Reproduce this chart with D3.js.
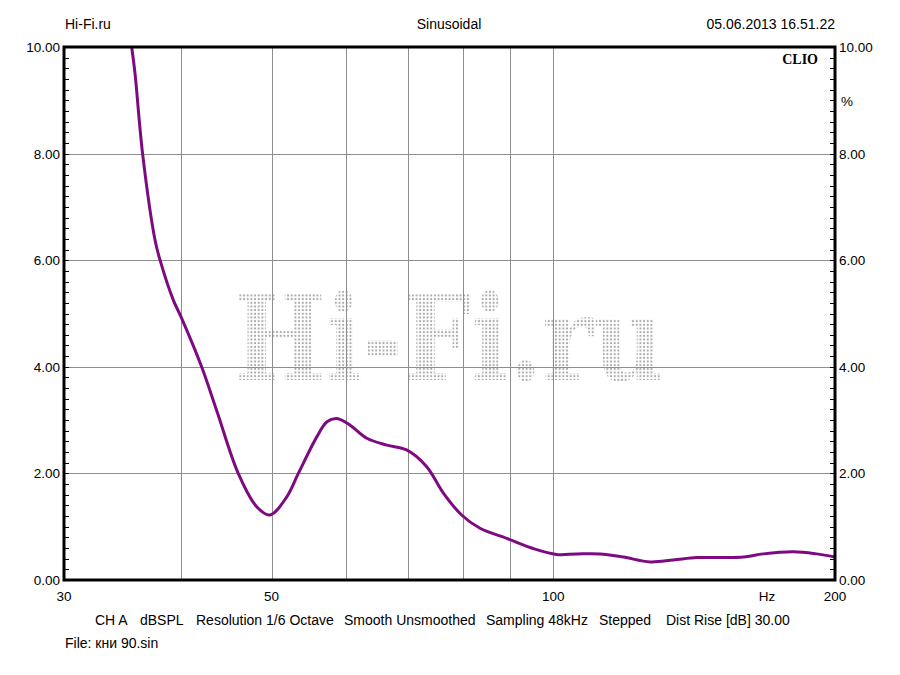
<!DOCTYPE html>
<html>
<head>
<meta charset="utf-8">
<script src="https://cdn.jsdelivr.net/npm/d3@7"></script>
<style>
  html, body { margin: 0; padding: 0; background: #fff; }
  svg { display: block; }
  text { font-family: "Liberation Sans", Arial, sans-serif; fill: #000; }
</style>
</head>
<body>
<svg id="chart" width="900" height="675"></svg>
<script>
// ---- data ----
const freqs = [35.3, 35.44, 35.73, 36.4, 37.53, 38.0, 39.26, 40.0, 42.09, 43.68, 46.06, 48.2, 49.8,
  51.9, 53.4, 55.9, 57.3, 58.7, 60.6, 63.2, 66.4, 69.7, 73.2, 76.3, 79.8, 83.5, 89.2, 95.2,
  100.8, 106.0, 112.2, 118.8, 126.9, 134.3, 142.4, 151.0, 159.7, 167.6, 180.6, 191.1, 200];
const thd = [10.25, 10.0, 9.5, 8.0, 6.38, 6.0, 5.25, 4.94, 4.0, 3.18, 2.0, 1.375, 1.22,
  1.56, 2.0, 2.69, 2.97, 3.03, 2.91, 2.66, 2.53, 2.44, 2.13, 1.63, 1.22, 0.97, 0.78, 0.59,
  0.48, 0.49, 0.49, 0.43, 0.34, 0.375, 0.42, 0.42, 0.43, 0.49, 0.53, 0.49, 0.43];
const xGrid = [40, 50, 60, 70, 80, 90, 100];
const xTickLabels = [30, 50, 100, 200];
const yTicks = [0, 2, 4, 6, 8, 10];
const headerLeft = "Hi-Fi.ru";
const headerCenter = "Sinusoidal";
const headerRight = "05.06.2013 16.51.22";
const infoItems = ["CH A", "dBSPL", "Resolution 1/6 Octave", "Smooth Unsmoothed", "Sampling 48kHz", "Stepped", "Dist Rise [dB] 30.00"];
const infoX = [95, 140, 196, 344, 486, 599, 666];
const fileLine = "File: кни 90.sin";

// ---- layout ----
const L = 64, R = 835, T = 47, B = 580;
const svg = d3.select("#chart");
const x = d3.scaleLog().domain([30, 200]).range([L, R]);
const y = d3.scaleLinear().domain([0, 10]).range([B, T]);

// watermark (dotted)
const defs = svg.append("defs");
const pat = defs.append("pattern").attr("id", "dots").attr("patternUnits", "userSpaceOnUse")
  .attr("width", 3.67).attr("height", 3.67);
pat.append("circle").attr("cx", 1.8).attr("cy", 1.8).attr("r", 1.1).attr("fill", "#ababab");
defs.append("clipPath").attr("id", "plotclip").append("rect")
  .attr("x", L).attr("y", T).attr("width", R - L).attr("height", B - T);

svg.append("text")
  .attr("x", 234).attr("y", 380)
  .attr("textLength", 430).attr("lengthAdjust", "spacingAndGlyphs")
  .style("font-family", "'DejaVu Serif', serif")
  .style("font-weight", "bold")
  .style("font-size", "117px")
  .style("fill", "url(#dots)")
  .text("Hi-Fi.ru");

// grid
const g = svg.append("g");
xGrid.forEach(f => {
  const px = Math.round(x(f)) + 0.5;
  g.append("line").attr("x1", px).attr("x2", px).attr("y1", T).attr("y2", B)
    .attr("stroke", "#8e8e8e").attr("stroke-width", 1);
});
yTicks.slice(1, -1).forEach(v => {
  const py = Math.round(y(v)) + 0.5;
  g.append("line").attr("x1", L).attr("x2", R).attr("y1", py).attr("y2", py)
    .attr("stroke", "#8e8e8e").attr("stroke-width", 1);
});

// minor ticks
const minor = d3.range(0, 10.001, 0.2);
minor.forEach(v => {
  const py = Math.round(y(v)) + 0.5;
  g.append("line").attr("x1", L).attr("x2", L + 5).attr("y1", py).attr("y2", py)
    .attr("stroke", "#000").attr("stroke-width", 1);
  g.append("line").attr("x1", R - 5).attr("x2", R).attr("y1", py).attr("y2", py)
    .attr("stroke", "#000").attr("stroke-width", 1);
});

// curve
const pts = freqs.map((f, i) => [f, thd[i]]);
const line = d3.line().x(d => x(d[0])).y(d => y(d[1])).curve(d3.curveCatmullRom.alpha(0.5));
svg.append("path").datum(pts).attr("clip-path", "url(#plotclip)")
  .attr("d", line).attr("fill", "none").attr("stroke", "#7e0a82").attr("stroke-width", 3)
  .attr("stroke-linejoin", "round");

// frame
svg.append("rect").attr("x", L).attr("y", T).attr("width", R - L).attr("height", B - T)
  .attr("fill", "none").attr("stroke", "#000").attr("stroke-width", 3);

// y labels
yTicks.forEach(v => {
  svg.append("text").attr("x", 60).attr("y", y(v) + 5).attr("text-anchor", "end")
    .style("font-size", "13.5px").text(v.toFixed(2));
  svg.append("text").attr("x", 839).attr("y", y(v) + 5).attr("text-anchor", "start")
    .style("font-size", "13.5px").text(v.toFixed(2));
});
svg.append("text").attr("x", 841).attr("y", 106).style("font-size", "13.5px").text("%");

// x labels
xTickLabels.forEach(f => {
  svg.append("text").attr("x", x(f)).attr("y", 601).attr("text-anchor", "middle")
    .style("font-size", "13.5px").text(String(f));
});
svg.append("text").attr("x", 767).attr("y", 601).attr("text-anchor", "middle")
  .style("font-size", "13.5px").text("Hz");

// CLIO
svg.append("text").attr("x", 818).attr("y", 64).attr("text-anchor", "end")
  .style("font-family", "'Liberation Serif', 'Times New Roman', serif")
  .style("font-weight", "bold").style("font-size", "14px").text("CLIO");

// header
svg.append("text").attr("x", 65).attr("y", 29).style("font-size", "14px").text(headerLeft);
svg.append("text").attr("x", 449).attr("y", 29).attr("text-anchor", "middle").style("font-size", "14px").text(headerCenter);
svg.append("text").attr("x", 835).attr("y", 29).attr("text-anchor", "end").style("font-size", "14px").text(headerRight);

// info line
infoItems.forEach((t, i) => {
  svg.append("text").attr("x", infoX[i]).attr("y", 625).style("font-size", "14px").text(t);
});
svg.append("text").attr("x", 65).attr("y", 648).style("font-size", "14px").text(fileLine);
</script>
</body>
</html>
